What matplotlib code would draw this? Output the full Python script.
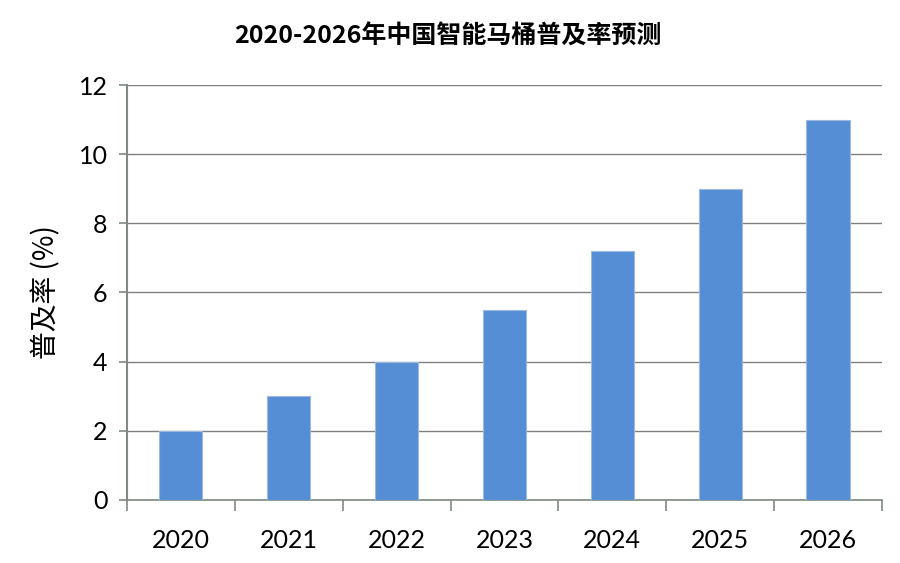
import numpy as np
import matplotlib
matplotlib.use("Agg")
import matplotlib.pyplot as plt

plt.rcParams['font.family'] = ['Lato', 'Noto Sans CJK SC', 'DejaVu Sans']

years = ['2020', '2021', '2022', '2023', '2024', '2025', '2026']
rate = [2, 3, 4, 5.5, 7.2, 9, 11]

fig = plt.figure(figsize=(9, 5.63), dpi=100)
ax = fig.add_axes([0.141, 0.112, 0.839, 0.737])

x = np.arange(len(years))
ax.bar(x, rate, width=0.4, color='#558ED5', edgecolor='#9DB9E0', linewidth=0.8, zorder=3)

ax.set_xlim(-0.5, len(years) - 0.5)
ax.set_ylim(0, 12)
ax.set_yticks(np.arange(0, 13, 2))
ax.yaxis.grid(True, color='#808080', linewidth=1.0, zorder=0)
ax.set_axisbelow(True)

ax.set_xticks(x)
ax.set_xticklabels(years, fontsize=18)
ax.set_xticks(np.arange(-0.5, len(years), 1), minor=True)
ax.tick_params(axis='x', which='major', length=0, pad=21)
ax.tick_params(axis='x', which='minor', length=8, width=1.2, color='#7F8A80', direction='out')
ax.tick_params(axis='y', length=6, width=1.2, color='#7F8A80', labelsize=18, pad=8)

for s in ['top', 'right']:
    ax.spines[s].set_visible(False)
ax.spines['left'].set_color('#7F8A80')
ax.spines['left'].set_linewidth(1.5)
ax.spines['bottom'].set_color('#7F8A80')
ax.spines['bottom'].set_linewidth(1.2)

ax.set_ylabel('普及率 (%)', fontsize=20, family=['Noto Sans CJK SC', 'DejaVu Sans'], labelpad=12)
fig.text(0.498, 0.934, '2020-2026年中国智能马桶普及率预测', ha='center', va='center',
         fontsize=18, fontweight='bold', family=['Noto Sans CJK SC', 'DejaVu Sans'])

fig.savefig('out.png', dpi=100)
